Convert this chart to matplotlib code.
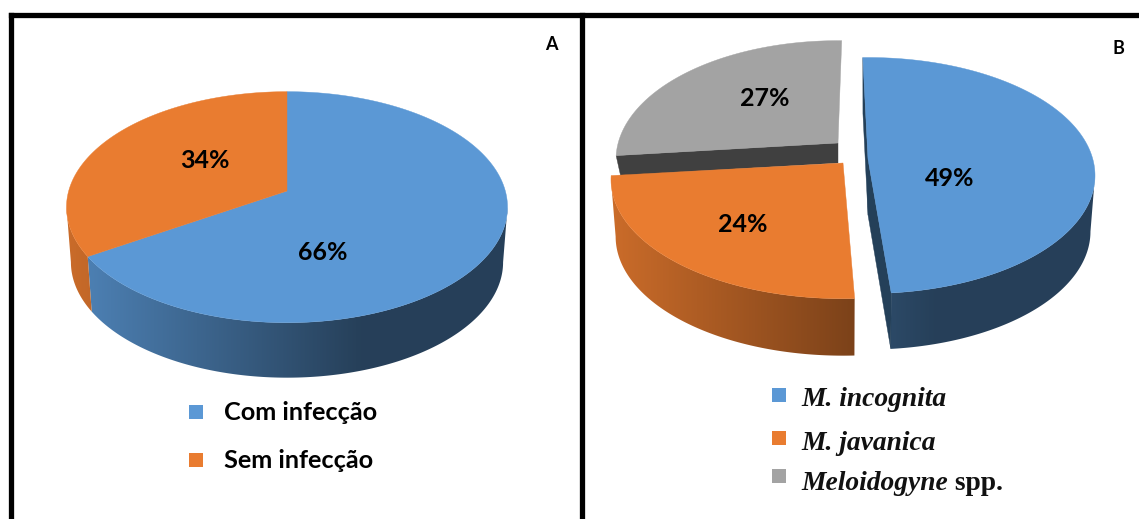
import numpy as np
import matplotlib
matplotlib.use('Agg')
import matplotlib.pyplot as plt
from matplotlib.colors import to_rgb
from matplotlib.patches import Polygon

# data
labels_a = ['Com infecção', 'Sem infecção']
values_a = [66, 34]
labels_b = ['M. incognita', 'M. javanica', 'Meloidogyne']
values_b = [49, 24, 27]
suffix_b = ' spp.'

blue = '#5b98d5'
orange = '#e97c30'
grey = '#a3a3a3'
K = 0.14  # perspective
SHRINK = 0.98  # lower rim looks a bit narrower


def rim(t, ax0, ay0, rx, ry):
    u, v = np.sin(t), np.cos(t)
    w = 1 + K * v
    x = ax0 + rx * np.sqrt(1 - K**2) * u / w
    y = ay0 - ry * (1 - K**2) * v / w
    return x, y


def shade(col, x, left, width):
    f = np.clip((x - left) / width, 0, 0.67) / 0.67
    return np.outer(0.87 - 0.45 * f, to_rgb(col))


def walls(ax, t0, t1, geo, depth, col, left, width):
    # side of a slice, gradient image clipped to the band under the rim
    # only the front part of the rim, the back is hidden anyway
    t_r = np.arccos(-K)
    ts = np.linspace(max(t0, t_r), min(t1, 2 * np.pi - t_r), 300)
    x, y = rim(ts, *geo)
    xb = geo[0] + (x - geo[0]) * SHRINK
    xy = np.c_[np.r_[x, xb[::-1]], np.r_[y, y[::-1] + depth]]
    x0, x1 = np.floor(min(x.min(), xb.min())), np.ceil(max(x.max(), xb.max()))
    y0, y1 = np.floor(y.min()), np.ceil(y.max() + depth)
    xs = np.linspace(x0, x1, 256)
    im = ax.imshow(shade(col, xs, left, width)[None, :, :], extent=(x0, x1, y1, y0),
                   aspect='auto', zorder=2, interpolation='bilinear')
    im.set_clip_path(Polygon(xy, closed=True, transform=ax.transData))
    ax.set_xlim(0, 1139)
    ax.set_ylim(519, 0)


def top(ax, t0, t1, geo, col, z=3):
    ts = np.linspace(t0, t1, 300)
    x, y = rim(ts, *geo)
    ax.fill(np.r_[geo[0], x], np.r_[geo[1], y], color=col, lw=0.3, zorder=z)


def face(ax, t, geo, depth, col):
    x, y = rim(t, *geo)
    xb = geo[0] + (x - geo[0]) * SHRINK
    ax.fill([geo[0], x, xb, geo[0]], [geo[1], y, y + depth, geo[1] + depth],
            color=col, lw=0.3, zorder=2)


fig = plt.figure(figsize=(11.39, 5.19), dpi=100)
ax = fig.add_axes([0, 0, 1, 1])
ax.set_xlim(0, 1139)
ax.set_ylim(519, 0)
ax.axis('off')

# frame
ax.plot([11, 11], [519, 14.5], color='k', lw=3.8, solid_capstyle='projecting')
ax.plot([11, 1139], [14.5, 14.5], color='k', lw=3.8)
ax.plot([582, 582], [14.5, 519], color='k', lw=3.8)

# pie A
geo_a = (287, 191, 220.5, 115.5)
ang = 0.0
for val, col in zip(values_a, [blue, orange]):
    span = np.radians(val * 3.6)
    walls(ax, ang, ang + span, geo_a, 55, col, 66, 441)
    top(ax, ang, ang + span, geo_a, col)
    ang += span

# pie B: each exploded slice has its own apex, radii and rotation
t1 = np.radians(1.1)
t0 = t1 - np.radians(values_b[2] * 3.6)
geo_grey = (838, 143, 222, 119)
face(ax, t0, geo_grey, 20, '#404040')
top(ax, t0, t1, geo_grey, grey)

t0 = np.radians(177.5)
t1 = t0 + np.radians(values_b[1] * 3.6)
geo_orange = (843, 163, 232, 119)
walls(ax, t0, t1, geo_orange, 57, orange, 611, 483)
top(ax, t0, t1, geo_orange, orange)

t0 = np.radians(-1.5)
t1 = t0 + np.radians(values_b[0] * 3.6)
geo_blue = (868, 159, 227, 118)
walls(ax, t0, t1, geo_blue, 56, blue, 611, 483)
face(ax, t0, geo_blue, 56, '#244059')
face(ax, t1, geo_blue, 56, '#244059')
top(ax, t0, t1, geo_blue, blue)

# percent labels
pct = dict(ha='center', va='center', family='Lato', weight='bold', fontsize=18, color='k', zorder=5)
ax.text(323, 252, f'{values_a[0]}%', **pct)
ax.text(205, 160, f'{values_a[1]}%', **pct)
ax.text(950, 178, f'{values_b[0]}%', **pct)
ax.text(743, 224, f'{values_b[1]}%', **pct)
ax.text(765, 99, f'{values_b[2]}%', **pct)

ax.text(551, 45, 'A', ha='center', va='center', family='Lato', weight='bold', fontsize=13)
ax.text(1118, 49, 'B', ha='center', va='center', family='Lato', weight='bold', fontsize=13)

# legend A
for lab, col, y in zip(labels_a, [blue, orange], [412, 460]):
    ax.scatter([196], [y], marker='s', s=105, color=col, lw=0, zorder=4)
    ax.text(224, y + 1, lab, ha='left', va='center', family='Lato', weight='bold', fontsize=18.2)

# legend B
ty = [396, 440, 480]
for lab, col, y, my in zip(labels_b, [blue, orange, grey], ty, [395, 438, 476]):
    ax.scatter([778.5], [my], marker='s', s=105, color=col, lw=0, zorder=4)
    t = ax.text(801, y, lab, ha='left', va='center_baseline', family='Liberation Serif',
                style='italic', weight='bold', fontsize=19.8, color='#111111')
ax.annotate(suffix_b, xy=(1, 0), xycoords=t, va='bottom', ha='left', family='Liberation Serif',
            weight='bold', fontsize=19.8, color='#111111')

fig.savefig('out.png', dpi=100)
